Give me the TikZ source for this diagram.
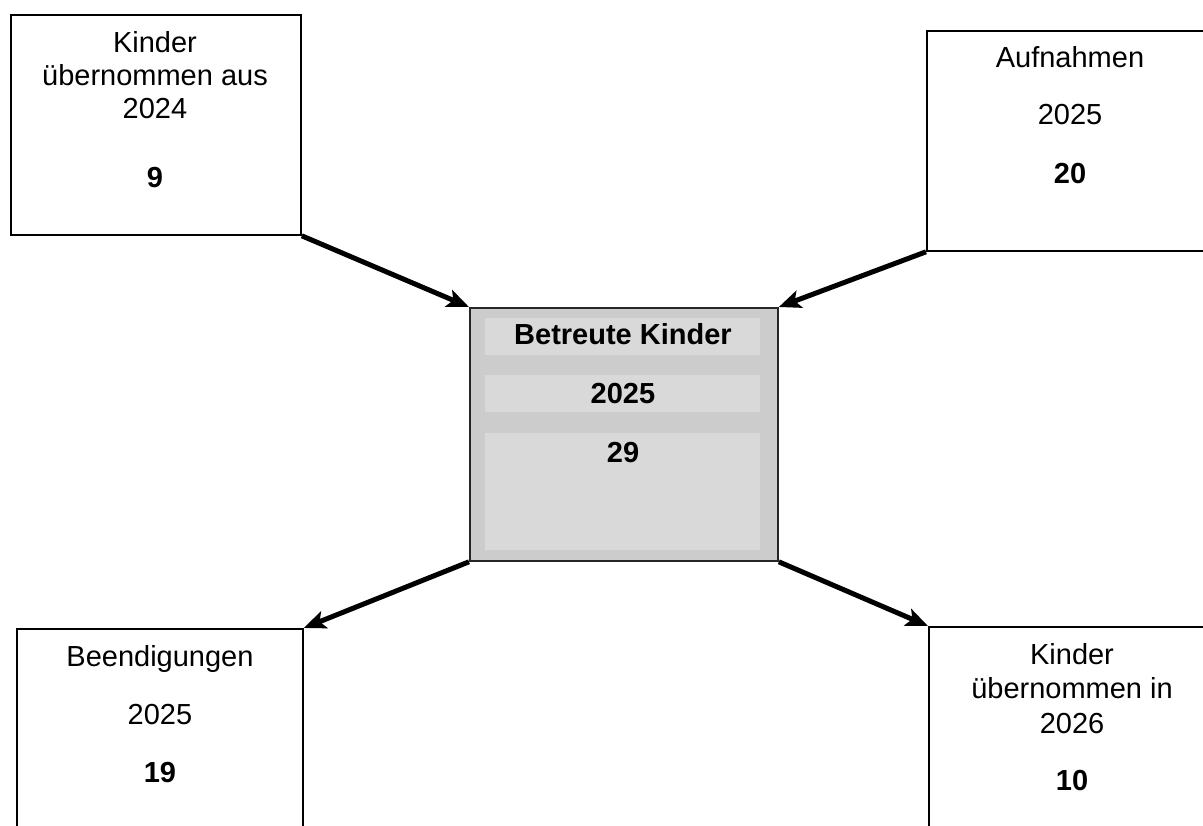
\documentclass[tikz,border=0pt]{standalone}
\usepackage{fontspec}
\setmainfont{Liberation Sans}
\usetikzlibrary{arrows.meta}
\definecolor{boxgray}{HTML}{CDCCCD}
\definecolor{bandgray}{HTML}{D9D9D9}
\begin{document}
\begin{tikzpicture}[x=1pt,y=-1pt,
  box/.style={draw=black, line width=1.8pt, fill=white, inner sep=0pt, anchor=north west},
  centerbox/.style={draw=black!85, line width=1.8pt, fill=boxgray, inner sep=0pt, anchor=north west},
  flow/.style={line width=5pt, -{Stealth[length=22pt,width=18pt,inset=5pt]}},
  lbl/.style={anchor=base, inner sep=0pt, font=\fontsize{29}{33.5}\selectfont},
  num/.style={anchor=base, inner sep=0pt, font=\fontsize{29}{33.5}\selectfont\bfseries}]
\useasboundingbox (0,0) rectangle (1203,826);
\clip (0,0) rectangle (1203,826);
\fill[white] (0,0) rectangle (1203,826);

% boxes
\node[box, minimum width=290pt, minimum height=220pt] (tl) at (10,14) {};
\node[box, minimum width=300pt, minimum height=220pt] (tr) at (926,30) {};
\node[box, minimum width=286pt, minimum height=250pt] (bl) at (16,628) {};
\node[box, minimum width=300pt, minimum height=250pt] (br) at (928,626) {};
\node[centerbox, minimum width=308pt, minimum height=253pt] (c) at (469,307) {};

% bands inside the centre box
\fill[bandgray] (485,318) rectangle (760,355);
\fill[bandgray] (485,375) rectangle (760,412);
\fill[bandgray] (485,433) rectangle (760,550);

% texts top-left
\node[lbl] (tl1) at (155,53) {Kinder};
\node[lbl] (tl2) at (155,86) {übernommen aus};
\node[lbl] (tl3) at (155,119) {2024};
\node[num] (tl4) at (155,188) {9};

% texts top-right
\node[lbl] (tr1) at (1070,68) {Aufnahmen};
\node[lbl] (tr2) at (1070,125) {2025};
\node[num] (tr3) at (1070,184) {20};

% texts centre
\node[num] (c1) at (623,345) {Betreute Kinder};
\node[num] (c2) at (623,403) {2025};
\node[num] (c3) at (623,462) {29};

% texts bottom-left
\node[lbl] (bl1) at (160,666) {Beendigungen};
\node[lbl] (bl2) at (160,724) {2025};
\node[num] (bl3) at (160,782) {19};

% texts bottom-right
\node[lbl] (br1) at (1072,664) {Kinder};
\node[lbl] (br2) at (1072,698) {übernommen in};
\node[lbl] (br3) at (1072,733) {2026};
\node[num] (br4) at (1072,790) {10};

% connectors
\draw[flow] (tl.south east) -- (c.north west);
\draw[flow] (tr.south west) -- (c.north east);
\draw[flow] (c.south west) -- (bl.north east);
\draw[flow] (c.south east) -- (br.north west);
\end{tikzpicture}
\end{document}
